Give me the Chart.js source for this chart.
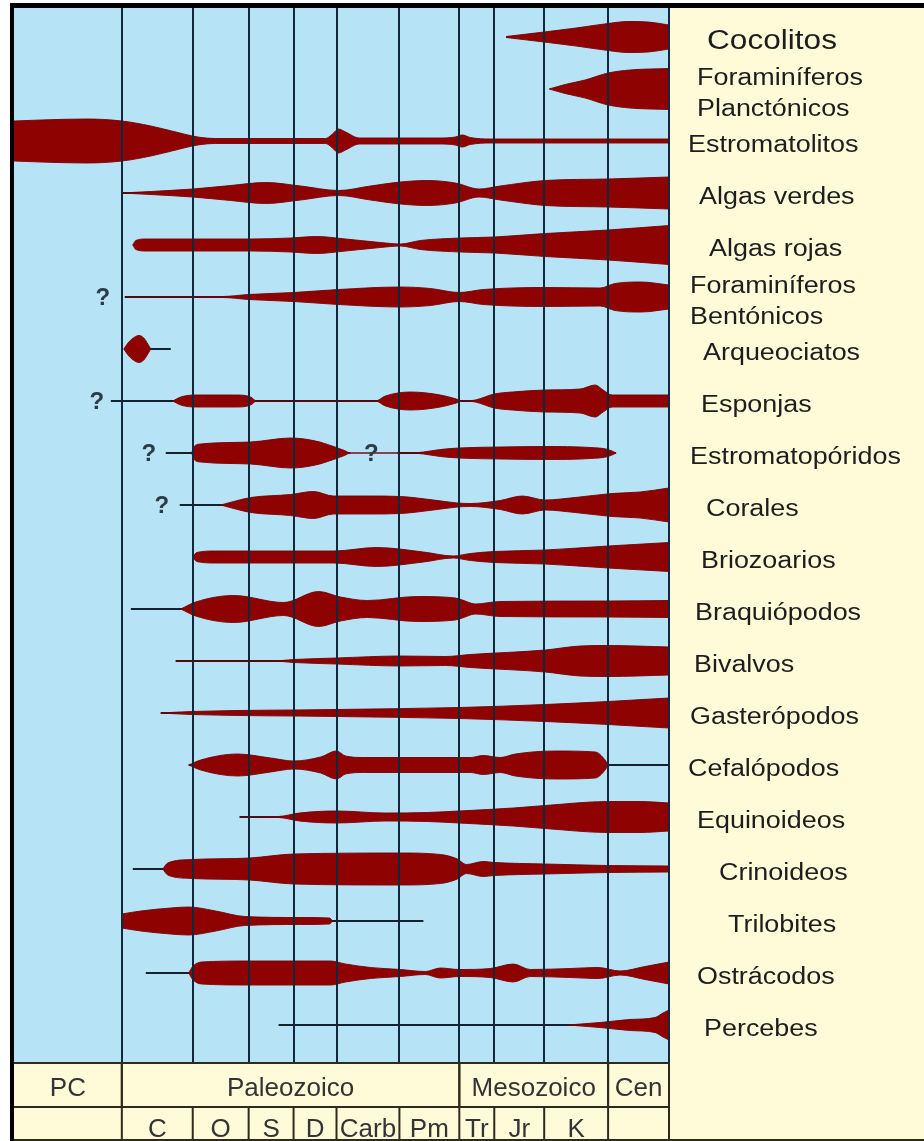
<!DOCTYPE html>
<html>
<head>
<meta charset="utf-8">
<script src="https://cdn.jsdelivr.net/npm/chart.js@4.4.1/dist/chart.umd.min.js"></script>
<style>
  html, body { margin: 0; padding: 0; background: #fff; }
  canvas { display: block; }
</style>
</head>
<body>
<canvas id="chart" width="924" height="1141"></canvas>
<script>
// taxa, top to bottom (\n = two line label)
const taxa = [
  'Cocolitos', 'Foraminíferos\nPlanctónicos', 'Estromatolitos', 'Algas verdes', 'Algas rojas',
  'Foraminíferos\nBentónicos', 'Arqueociatos', 'Esponjas', 'Estromatopóridos', 'Corales',
  'Briozoarios', 'Braquiópodos', 'Bivalvos', 'Gasterópodos', 'Cefalópodos',
  'Equinoideos', 'Crinoideos', 'Trilobites', 'Ostrácodos', 'Percebes'
];

// period boundaries on the time axis (relative units, PC at the left)
const boundaries = [0, 108, 179, 235, 280, 323, 386, 446, 481, 531, 595, 656];
const eras = [['PC', 0, 108], ['Paleozoico', 108, 446], ['Mesozoico', 446, 595], ['Cen', 595, 656]];
const periods = ['C', 'O', 'S', 'D', 'Carb', 'Pm', 'Tr', 'Jr', 'K'];

// known range of each group (thin line), [start, end]
const ranges = [
  [[493, 515]], [], [[0, 656]], [[108, 656]], [[119, 656]],
  [[111, 656]], [[110, 157]], [[97, 656]], [[152, 337], [384, 603]], [[166, 656]],
  [[179, 656]], [[117, 656]], [[162, 656]], [[147, 656]], [[175, 656]],
  [[226, 656]], [[119, 656]], [[108, 410]], [[132, 656]], [[265, 656]]
];

// spindle width (diversity) along time: [time, width]
const profiles = [
  [[493,1],[531,10],[563,18],[595,27],[615,31],[635,30],[656,24]],
  [[536,0],[552,9],[572,18],[595,32],[617,38],[656,41]],
  [[0,40],[27,42],[72,44],[108,40],[137,30],[158,20],[184,8],[202,5],[312,5],[319,14],[325,24],[332,18],[346,6],[427,6],[442,8],[449,12],[457,7],[477,4],[656,4]],
  [[108,0],[137,3],[179,8],[217,15],[252,21],[287,14],[325,5],[357,14],[387,22],[414,25],[442,20],[466,8],[487,14],[532,25],[595,28],[656,32]],
  [[119,0],[122,9],[132,12],[237,12],[277,14],[303,17],[332,12],[367,5],[387,2],[407,9],[447,14],[481,16],[532,23],[595,30],[656,39]],
  [[111,0],[209,1],[235,5],[280,9],[325,15],[387,20],[417,17],[446,9],[470,15],[532,19],[587,18],[602,27],[628,30],[656,24]],
  [[110,0],[115,14],[121,24],[125,27],[130,22],[134,10],[137,0]],
  [[159,0],[167,8],[182,12],[222,12],[237,8],[243,0],[362,0],[372,10],[397,18],[427,12],[443,4],[449,0],[462,2],[481,14],[499,18],[532,22],[567,24],[582,32],[590,22],[599,12],[656,12]],
  [[178,0],[180,12],[187,18],[237,22],[277,30],[302,24],[320,13],[331,5],[337,0],[397,0],[410,2],[427,7],[446,10],[487,12],[532,13],[577,11],[595,7],[603,0]],
  [[207,0],[222,8],[237,15],[277,21],[300,27],[320,18],[357,18],[387,17],[420,10],[444,4],[457,3],[487,9],[509,18],[532,10],[562,15],[599,23],[627,26],[656,34]],
  [[179,0],[183,9],[202,12],[320,12],[363,19],[410,10],[440,2],[457,7],[481,11],[532,14],[595,22],[656,29]],
  [[167,0],[182,14],[220,27],[270,13],[305,35],[327,24],[354,17],[404,25],[442,22],[449,18],[462,10],[487,15],[595,16],[656,17]],
  [[162,0],[260,0],[280,3],[323,6],[387,10],[432,9],[457,13],[532,22],[567,30],[595,31],[656,28]],
  [[147,0],[178,3],[323,7],[446,11],[532,17],[595,23],[656,30]],
  [[175,0],[187,10],[224,22],[257,14],[280,8],[307,16],[323,28],[332,18],[350,15],[457,15],[470,19],[487,15],[502,22],[543,28],[582,26],[592,10],[595,0]],
  [[226,0],[265,1],[286,8],[323,12],[372,8],[414,9],[446,12],[500,18],[532,23],[595,31],[627,31],[656,28]],
  [[149,0],[154,12],[178,19],[236,22],[280,30],[387,32],[427,29],[444,20],[453,9],[470,15],[481,13],[532,10],[595,7],[656,6]],
  [[108,14],[127,20],[157,26],[175,28],[202,20],[231,9],[287,7],[316,6],[319,0]],
  [[175,0],[179,13],[188,22],[236,24],[317,24],[332,18],[357,11],[387,7],[412,3],[427,10],[446,7],[477,9],[500,18],[517,7],[557,9],[585,11],[607,4],[632,13],[656,22]],
  [[555,0],[587,5],[617,11],[642,15],[650,24],[656,30]]
];

// uncertain origins: [taxon index, time]
const queries = [[5, 89], [7, 83], [8, 135], [8, 358], [9, 148]];

const ROW_GAP = 52;
const BLUE = 'rgb(183,227,246)';
const CREAM = 'rgb(255,251,216)';
const RED = '#8e0202';
const STEM = '#13222e';
const GRID = '#10283a';
// label indent inside the right panel
const labelIndent = [38, 28, 19, 30, 40, 21, 34, 32, 21, 37, 32, 26, 25, 21, 19, 28, 50, 59, 28, 35];

const datasets = [];
taxa.forEach((name, i) => {
  const c = i * ROW_GAP;
  const edge = { fill: false, borderColor: 'rgba(115,0,0,0.9)', borderWidth: 1, backgroundColor: RED,
    pointRadius: 0, cubicInterpolationMode: 'monotone', order: 1 };
  datasets.push({ ...edge, label: name + ' top', fill: '+1', data: profiles[i].map(p => ({ x: p[0], y: c - p[1] / 2 })) });
  datasets.push({ ...edge, label: name + ' bottom', data: profiles[i].map(p => ({ x: p[0], y: c + p[1] / 2 })) });
  ranges[i].forEach(r => {
    datasets.push({ label: name + ' range', data: [{ x: r[0], y: c }, { x: r[1], y: c }],
      borderColor: STEM, borderWidth: 2, pointRadius: 0, fill: false, order: 2 });
  });
});

function line(ctx, x1, y1, x2, y2) {
  ctx.beginPath(); ctx.moveTo(x1, y1); ctx.lineTo(x2, y2); ctx.stroke();
}

const decor = {
  id: 'decor',
  beforeDraw(chart) {
    const { ctx, chartArea: a, width, height } = chart;
    ctx.save();
    ctx.fillStyle = '#fff';
    ctx.fillRect(0, 0, width, height);
    ctx.fillStyle = CREAM;
    ctx.fillRect(10, 3, width - 10, height - 3);
    ctx.fillStyle = BLUE;
    ctx.fillRect(a.left, a.top, a.right - a.left, a.bottom - a.top);
    ctx.restore();
  },
  afterDraw(chart) {
    const { ctx, chartArea: a, width, height } = chart;
    const xs = chart.scales.x, ys = chart.scales.y;
    ctx.save();

    // bottom time rows
    const eraTop = a.bottom, eraBot = a.bottom + 44;
    ctx.strokeStyle = '#2e2a1e';
    ctx.lineWidth = 2;
    line(ctx, a.left, eraTop, a.right, eraTop);
    line(ctx, a.left, eraBot, a.right, eraBot);
    line(ctx, 10, height - 1, width, height - 1);
    ctx.font = '26px "Liberation Sans", Arial, sans-serif';
    ctx.fillStyle = '#333';
    ctx.textAlign = 'center';
    ctx.textBaseline = 'alphabetic';
    eras.forEach(([name, s, e]) => {
      const x0 = xs.getPixelForValue(s), x1 = xs.getPixelForValue(e);
      if (s > 0) line(ctx, x0, eraTop, x0, eraBot);
      line(ctx, x1, eraTop, x1, eraBot);
      ctx.fillText(name, (x0 + x1) / 2, eraTop + 33);
    });
    boundaries.slice(1).forEach(b => {
      const x = xs.getPixelForValue(b);
      line(ctx, x, eraBot, x, height);
    });
    ctx.save();
    ctx.beginPath();
    ctx.rect(a.left, eraBot, a.right - a.left, height - 2 - eraBot);
    ctx.clip();
    periods.forEach((p, i) => {
      const x0 = xs.getPixelForValue(boundaries[i + 1]), x1 = xs.getPixelForValue(boundaries[i + 2]);
      ctx.fillText(p, (x0 + x1) / 2, height - 4);
    });
    ctx.restore();

    // outer frame
    ctx.fillStyle = '#000';
    ctx.fillRect(10, 3, 4, height - 3);
    ctx.fillRect(10, 3, width - 10, 5);

    // question marks
    ctx.font = 'bold 24px "Liberation Sans", Arial, sans-serif';
    ctx.fillStyle = '#2d3b49';
    ctx.textBaseline = 'middle';
    queries.forEach(([i, t]) => {
      ctx.fillText('?', xs.getPixelForValue(t), ys.getPixelForValue(i * ROW_GAP) + 1);
    });

    // taxon labels
    ctx.fillStyle = '#1d1d1d';
    ctx.textAlign = 'left';
    taxa.forEach((name, i) => {
      const lines = name.split('\n');
      const yc = ys.getPixelForValue(i * ROW_GAP) + 5;
      ctx.font = (i === 0 ? 27 : 23) + 'px "Liberation Sans", Arial, sans-serif';
      lines.forEach((ln, k) => {
        const yy = yc + (k - (lines.length - 1) / 2) * 31;
        ctx.save();
        ctx.translate(a.right + labelIndent[i], yy);
        ctx.scale(1.17, 1);
        ctx.fillText(ln, 0, 0);
        ctx.restore();
      });
    });
    ctx.restore();
  }
};

new Chart(document.getElementById('chart').getContext('2d'), {
  type: 'line',
  data: { datasets: datasets },
  options: {
    responsive: false,
    animation: false,
    devicePixelRatio: 1,
    events: [],
    layout: { padding: { left: 14, right: 255, top: 8, bottom: 78 } },
    plugins: { legend: { display: false }, tooltip: { enabled: false } },
    scales: {
      x: {
        type: 'linear', min: 0, max: 656,
        ticks: { display: false },
        grid: { color: GRID, lineWidth: 2, drawTicks: false, z: 1 },
        border: { display: false },
        afterBuildTicks: s => { s.ticks = boundaries.slice(1).map(v => ({ value: v })); }
      },
      y: { type: 'linear', min: -29, max: 1026, reverse: true, display: false }
    }
  },
  plugins: [decor]
});
</script>
</body>
</html>
